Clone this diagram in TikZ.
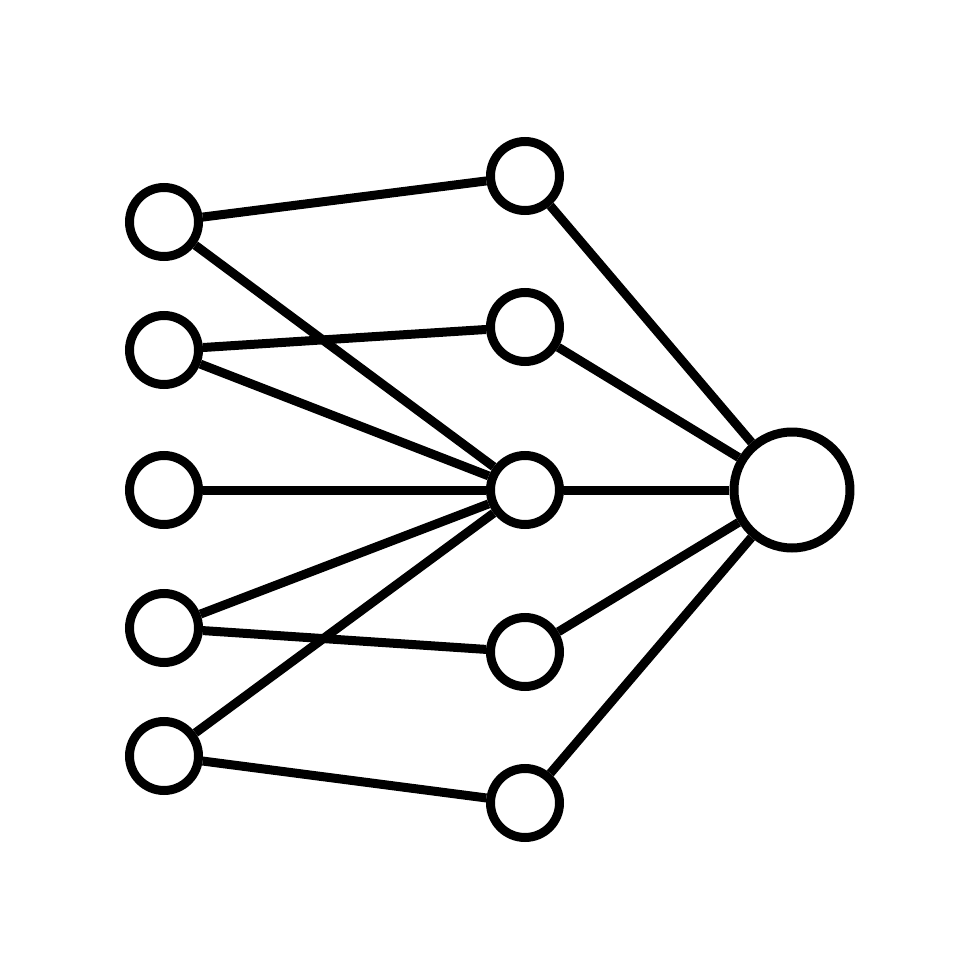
\documentclass[tikz,border=0pt]{standalone}
\usepackage{tikz}
\usetikzlibrary{positioning}

\begin{document}
\begin{tikzpicture}[line width=0.09cm,
		unit/.style={circle,draw,inner sep=0pt,minimum size=0.69cm},
		hub/.style={circle,draw,inner sep=0pt,minimum size=1.16cm}]
   \useasboundingbox (0,0) rectangle (9.8,9.8);
   % input column
   \node [unit] (l1) at (1.64,7.58) {};
   \node [unit] (l2) at (1.64,6.30) {};
   \node [unit] (l3) at (1.64,4.90) {};
   \node [unit] (l4) at (1.64,3.52) {};
   \node [unit] (l5) at (1.64,2.24) {};

   % middle column
   \node [unit] (m1) at (5.25,8.04) {} edge (l1);
   \node [unit] (m2) at (5.25,6.53) {} edge (l2);
   \node [unit] (m3) at (5.25,4.90) {} edge (l1) edge (l2) edge (l3)
                                        edge (l4) edge (l5);
   \node [unit] (m4) at (5.25,3.28) {} edge (l4);
   \node [unit] (m5) at (5.25,1.77) {} edge (l5);

   % output
   \node [hub] (out) at (7.92,4.90) {} edge (m1) edge (m2) edge (m3)
                                        edge (m4) edge (m5);
\end{tikzpicture}
\end{document}
